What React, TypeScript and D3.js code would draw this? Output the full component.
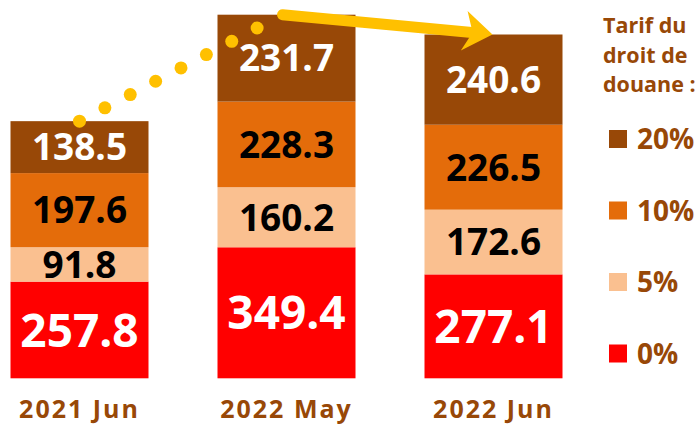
import React from "react";
import * as d3 from "d3";

// values
const categories = ["2021 Jun", "2022 May", "2022 Jun"];
const tariffs = ["0%", "5%", "10%", "20%"];
const rate0 = [257.8, 349.4, 277.1];
const rate5 = [91.8, 160.2, 172.6];
const rate10 = [197.6, 228.3, 226.5];
const rate20 = [138.5, 231.7, 240.6];

const colors: Record<string, string> = {
  "0%": "#FF0000",
  "5%": "#FAC090",
  "10%": "#E46C0A",
  "20%": "#984807",
};
const labelColors: Record<string, string> = {
  "0%": "#FFFFFF",
  "5%": "#000000",
  "10%": "#000000",
  "20%": "#FFFFFF",
};
const labelSizes: Record<string, number> = { "0%": 46, "5%": 37, "10%": 37, "20%": 37 };

const brown = "#984807";
const yellow = "#FFC000";
const font = "'Open Sans', sans-serif";

export default function App() {
  const width = 700;
  const height = 426;

  const rows = categories.map((c, i) => ({
    cat: c,
    "0%": rate0[i],
    "5%": rate5[i],
    "10%": rate10[i],
    "20%": rate20[i],
  }));
  const series = d3.stack<any>().keys(tariffs)(rows);
  const totals = rows.map((r) => d3.sum(tariffs, (k) => r[k]));

  const x = d3.scaleBand(categories, [10.5, 562.5]).paddingInner(1 / 3).paddingOuter(0);
  const y = d3.scaleLinear([0, d3.max(totals)!], [378.3, 14.7]);
  const cx = (c: string) => x(c)! + x.bandwidth() / 2;

  // trend annotation: dotted from bar 1 top to bar 2 top, then arrow to bar 3
  const p0: [number, number] = [cx(categories[0]), y(totals[0])];
  const p1: [number, number] = [cx(categories[1]) - 4, y(totals[1])];
  const p2: [number, number] = [cx(categories[2]) - 1, y(totals[2])];
  const dots = d3.range(8).map((i) => [
    p0[0] + ((p1[0] - p0[0]) * i) / 8,
    p0[1] + ((p1[1] - p0[1]) * i) / 8,
  ]);
  const ang = (Math.atan2(p2[1] - p1[1], p2[0] - p1[0]) * 180) / Math.PI;
  const len = Math.hypot(p2[0] - p1[0], p2[1] - p1[1]);

  const legendY = d3.scalePoint(["20%", "10%", "5%", "0%"], [139, 353.5]);

  return (
    <div style={{ position: "absolute", left: 0, top: 0 }}>
      <svg width={width} height={height} style={{ display: "block", background: "#fff" }}>
        {series.map((s) => (
          <g key={s.key} fill={colors[s.key]}>
            {s.map((d, i) => (
              <rect
                key={i}
                x={x(categories[i])}
                y={y(d[1])}
                width={x.bandwidth()}
                height={y(d[0]) - y(d[1])}
              />
            ))}
          </g>
        ))}
        {series.map((s) => (
          <g
            key={"l" + s.key}
            fill={labelColors[s.key]}
            fontFamily={font}
            fontWeight="bold"
            fontSize={labelSizes[s.key]}
            textAnchor="middle"
          >
            {s.map((d, i) => (
              <text
                key={i}
                x={cx(categories[i])}
                y={(y(d[0]) + y(d[1])) / 2}
                dy="0.36em"
              >
                {(d[1] - d[0]).toFixed(1)}
              </text>
            ))}
          </g>
        ))}
        <g fill={brown} fontFamily={font} fontWeight="bold" fontSize={25} textAnchor="middle">
          {categories.map((c) => (
            <text key={c} x={cx(c)} y={418} letterSpacing={2}>
              {c}
            </text>
          ))}
        </g>

        <g fill={yellow}>
          {dots.map((d, i) => (
            <circle key={i} cx={d[0]} cy={d[1]} r={6.5} />
          ))}
        </g>
        <g transform={`translate(${p1[0]},${p1[1]}) rotate(${ang})`}>
          <line x1={0} y1={0} x2={len - 18} y2={0} stroke={yellow} strokeWidth={11} strokeLinecap="round" />
          <path
            d={`M${len},0 L${len - 27},-21 L${len - 20},0 L${len - 30},19 Z`}
            fill={yellow}
          />
        </g>

        <g fill={brown} fontFamily={font} fontWeight="bold" fontSize={21.5}>
          {["Tarif du", "droit de", "douane :"].map((t, i) => (
            <text key={t} x={603} y={33 + i * 29.5}>
              {t}
            </text>
          ))}
        </g>
        {legendY.domain().map((k) => (
          <g key={k} transform={`translate(609,${legendY(k)})`}>
            <rect x={0} y={-9} width={18} height={18} fill={colors[k]} />
            <text
              x={28}
              y={0}
              dy="0.36em"
              fill={brown}
              fontFamily={font}
              fontWeight="bold"
              fontSize={28}
            >
              {k}
            </text>
          </g>
        ))}
      </svg>
    </div>
  );
}
